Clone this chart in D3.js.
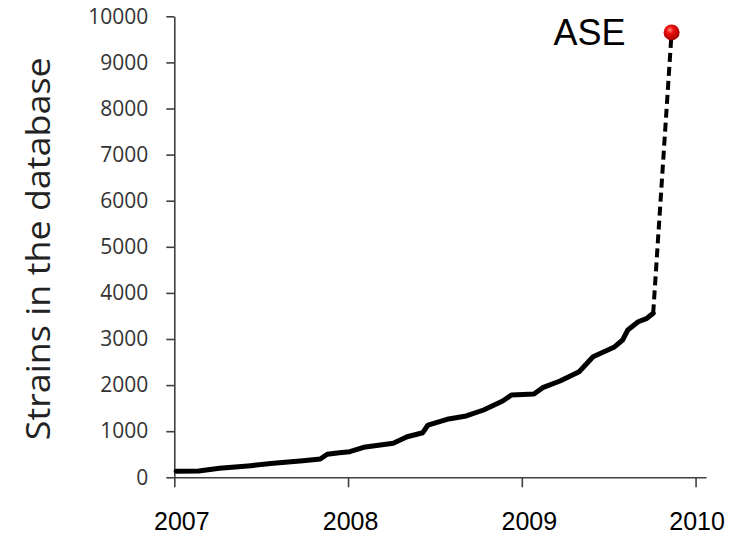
<!DOCTYPE html>
<html>
<head>
<meta charset="utf-8">
<script src="https://cdn.jsdelivr.net/npm/d3@7"></script>
<style>
  body { margin: 0; background: #fff; }
  svg { display: block; }
</style>
</head>
<body>
<script>
// Strains in the database over time, with the ASE point at the end

// solid part of the curve (decimal years / number of strains)
const years  = [2007.01, 2007.14, 2007.26, 2007.44, 2007.57, 2007.74, 2007.84, 2007.88,
                2007.95, 2008.01, 2008.09, 2008.26, 2008.34, 2008.43, 2008.46, 2008.57,
                2008.68, 2008.78, 2008.89, 2008.94, 2009.07, 2009.12, 2009.22, 2009.33,
                2009.41, 2009.53, 2009.58, 2009.61, 2009.67, 2009.72, 2009.756];
const counts = [130, 137, 195, 252, 303, 360, 397, 500,
                534, 555, 650, 737, 880, 967, 1134, 1258,
                1330, 1460, 1655, 1785, 1807, 1944, 2089, 2291,
                2616, 2820, 2978, 3195, 3375, 3449, 3557];

// the ASE point
const aseYear  = 2009.862;
const aseCount = 9650;
const aseLabel = "ASE";

const yTicks = [0, 1000, 2000, 3000, 4000, 5000, 6000, 7000, 8000, 9000, 10000];
const xTicks = [2007, 2008, 2009, 2010];
const yTitle = "Strains in the database";

const WIDTH = 734, HEIGHT = 536;
let margin = {top: 16.3, left: 174.3},
    width = 531.7,
    height = 461;

let svg = d3.select("body").append("svg")
    .attr("width", WIDTH)
    .attr("height", HEIGHT);

let defs = svg.append("defs");
let grad = defs.append("radialGradient")
    .attr("id", "ball")
    .attr("cx", "40%").attr("cy", "35%").attr("r", "65%");
grad.append("stop").attr("offset", "0%").attr("stop-color", "#ff8a80");
grad.append("stop").attr("offset", "35%").attr("stop-color", "#f01010");
grad.append("stop").attr("offset", "100%").attr("stop-color", "#a00000");

let chart = svg.append("g")
    .attr("transform", "translate(" + margin.left + "," + margin.top + ")");

let xScale = d3.scaleLinear()
    .domain([2007, 2010.06])
    .range([0, width]);

let yScale = d3.scaleLinear()
    .domain([0, 10000])
    .range([height, 0]);

// y axis
let yAxis = chart.append("g")
    .call(d3.axisLeft(yScale).tickValues(yTicks).tickFormat(d3.format("d"))
            .tickSize(8).tickSizeOuter(0).tickPadding(18));
yAxis.selectAll("text")
    .attr("font-family", "'Open Sans', sans-serif")
    .attr("font-size", 21)
    .attr("fill", "#333");

// x axis
let xAxis = chart.append("g")
    .attr("transform", "translate(0," + height + ")")
    .call(d3.axisBottom(xScale).tickValues(xTicks).tickFormat(d3.format("d"))
            .tickSize(10).tickSizeOuter(0).tickPadding(25));
xAxis.selectAll("text")
    .attr("font-family", "'Liberation Sans', Arial, sans-serif")
    .attr("font-size", 25)
    .attr("fill", "#000")
    .attr("dx", (d, i) => [7, 2, 7, 1][i]);

chart.selectAll(".domain, .tick line")
    .attr("stroke", "#404040")
    .attr("stroke-width", 1.6);

// y title
chart.append("text")
    .attr("transform", "translate(" + (-margin.left + 50) + "," + (height / 2 + 2) + ") rotate(-90)")
    .attr("text-anchor", "middle")
    .attr("font-family", "'Open Sans', sans-serif")
    .attr("font-size", 33)
    .attr("fill", "#222")
    .attr("textLength", 383)
    .attr("lengthAdjust", "spacingAndGlyphs")
    .text(yTitle);

let data = years.map((y, i) => ({year: y, count: counts[i]}));
let line = d3.line()
    .x(d => xScale(d.year))
    .y(d => yScale(d.count));

chart.append("path")
    .datum(data)
    .attr("d", line)
    .attr("fill", "none")
    .attr("stroke", "#000")
    .attr("stroke-width", 5)
    .attr("stroke-linejoin", "round")
    .attr("stroke-linecap", "round");

// dashed jump to the ASE point
let last = data[data.length - 1];
chart.append("path")
    .datum([last, {year: aseYear, count: aseCount}])
    .attr("d", line)
    .attr("fill", "none")
    .attr("stroke", "#000")
    .attr("stroke-width", 4)
    .attr("stroke-dasharray", "9,5");

chart.append("circle")
    .attr("cx", xScale(aseYear))
    .attr("cy", yScale(aseCount))
    .attr("r", 8)
    .attr("fill", "url(#ball)");

chart.append("text")
    .attr("x", xScale(aseYear) - 46)
    .attr("y", yScale(aseCount) + 13)
    .attr("text-anchor", "end")
    .attr("font-family", "'Liberation Sans', Arial, sans-serif")
    .attr("font-size", 36)
    .attr("fill", "#000")
    .text(aseLabel);
</script>
</body>
</html>
